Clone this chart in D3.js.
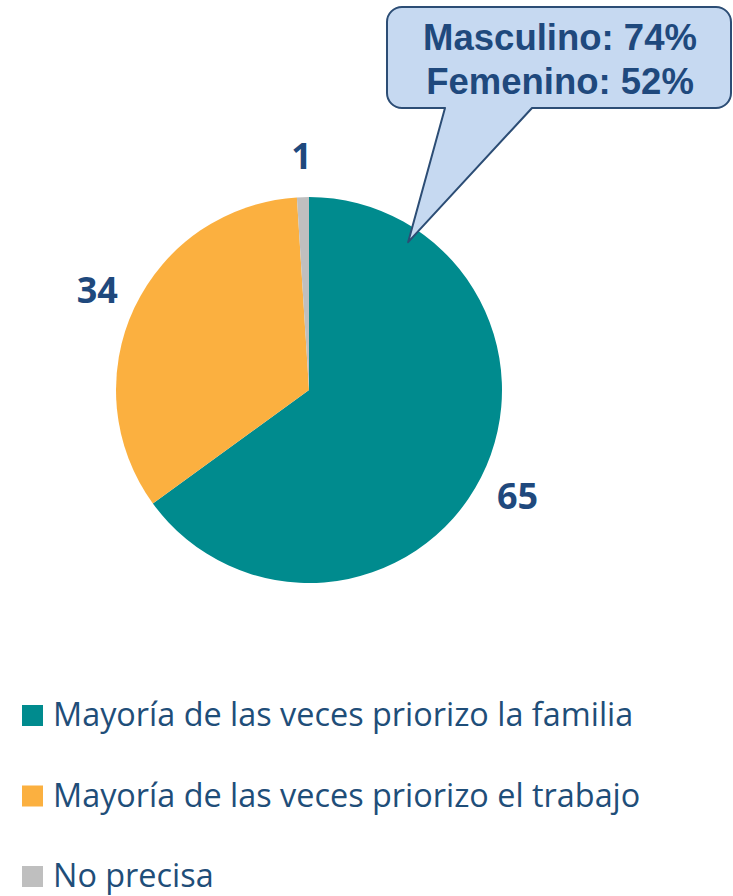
<!DOCTYPE html>
<html>
<head>
<meta charset="utf-8">
<style>
    body { margin: 0; background: #fff; }
    .label { font-family: "Open Sans", sans-serif; font-weight: bold; fill: #1f497d; }
    .legend text { font-family: "Open Sans", sans-serif; fill: #1f4e79; }
    .callout text { font-family: "Liberation Sans", Arial, sans-serif; font-weight: bold; fill: #1f497d; }
</style>
</head>
<body>
<div id="chart"></div>
<script src="https://cdn.jsdelivr.net/npm/d3@7/dist/d3.min.js"></script>
<script>

    // data
    const categories = ["Mayoría de las veces priorizo la familia", "Mayoría de las veces priorizo el trabajo", "No precisa"];
    const values = [65, 34, 1];
    const colors = ["#008b8e", "#fbb040", "#bfbfbf"];
    const calloutLines = ["Masculino: 74%", "Femenino: 52%"];

    const W = 733, H = 896;
    const cx = 309, cy = 390, radius = 193, labelRadius = 234;

    const svg = d3.select("#chart").append("svg")
        .attr("width", W)
        .attr("height", H);

    const data = categories.map(function (c, i) { return { name: c, value: values[i], color: colors[i] }; });

    const pie = d3.pie().sort(null).value(function (d) { return d.value; });
    const arc = d3.arc().innerRadius(0).outerRadius(radius);
    const labelArc = d3.arc().innerRadius(labelRadius).outerRadius(labelRadius);

    const g = svg.append("g").attr("transform", "translate(" + cx + "," + cy + ")");

    const arcs = pie(data);

    g.selectAll("path.slice")
        .data(arcs)
        .enter().append("path")
        .attr("class", "slice")
        .attr("d", arc)
        .attr("fill", function (d) { return d.data.color; });

    g.selectAll("text.label")
        .data(arcs)
        .enter().append("text")
        .attr("class", "label")
        .attr("transform", function (d) { return "translate(" + labelArc.centroid(d) + ")"; })
        .attr("text-anchor", "middle")
        .attr("dy", "0.36em")
        .style("font-size", "36px")
        .text(function (d) { return d.data.value; });

    // callout bubble, pointing into the teal slice
    const box = { x0: 387, y0: 7, x1: 731, y1: 108, r: 15 };
    const tailAngle = 0.094 * 2 * Math.PI, tailR = 178;
    const tip = [cx + tailR * Math.sin(tailAngle), cy - tailR * Math.cos(tailAngle)];
    const tailBase = [445, 532];

    const p = d3.path();
    p.moveTo(box.x0 + box.r, box.y0);
    p.lineTo(box.x1 - box.r, box.y0);
    p.arcTo(box.x1, box.y0, box.x1, box.y0 + box.r, box.r);
    p.lineTo(box.x1, box.y1 - box.r);
    p.arcTo(box.x1, box.y1, box.x1 - box.r, box.y1, box.r);
    p.lineTo(tailBase[1], box.y1);
    p.lineTo(tip[0], tip[1]);
    p.lineTo(tailBase[0], box.y1);
    p.lineTo(box.x0 + box.r, box.y1);
    p.arcTo(box.x0, box.y1, box.x0, box.y1 - box.r, box.r);
    p.lineTo(box.x0, box.y0 + box.r);
    p.arcTo(box.x0, box.y0, box.x0 + box.r, box.y0, box.r);
    p.closePath();

    const callout = svg.append("g").attr("class", "callout");
    callout.append("path")
        .attr("d", p.toString())
        .attr("fill", "#c6d9f1")
        .attr("stroke", "#2c4d75")
        .attr("stroke-width", 2)
        .attr("stroke-linejoin", "round");

    callout.selectAll("text")
        .data(calloutLines)
        .enter().append("text")
        .attr("x", (box.x0 + box.x1) / 2 + 1)
        .attr("y", function (d, i) { return 50 + i * 44; })
        .attr("text-anchor", "middle")
        .style("font-size", "36.5px")
        .text(function (d) { return d; });

    // legend
    const legend = svg.append("g").attr("class", "legend");
    const rowY = d3.scalePoint().domain(categories).range([726, 887]);

    const item = legend.selectAll("g")
        .data(data)
        .enter().append("g")
        .attr("transform", function (d) { return "translate(22," + rowY(d.name) + ")"; });

    item.append("rect")
        .attr("x", 0)
        .attr("y", -21)
        .attr("width", 21)
        .attr("height", 21)
        .attr("fill", function (d) { return d.color; });

    item.append("text")
        .attr("x", 31)
        .attr("y", 0)
        .style("font-size", "32.4px")
        .text(function (d) { return d.name; });

</script>
</body>
</html>
